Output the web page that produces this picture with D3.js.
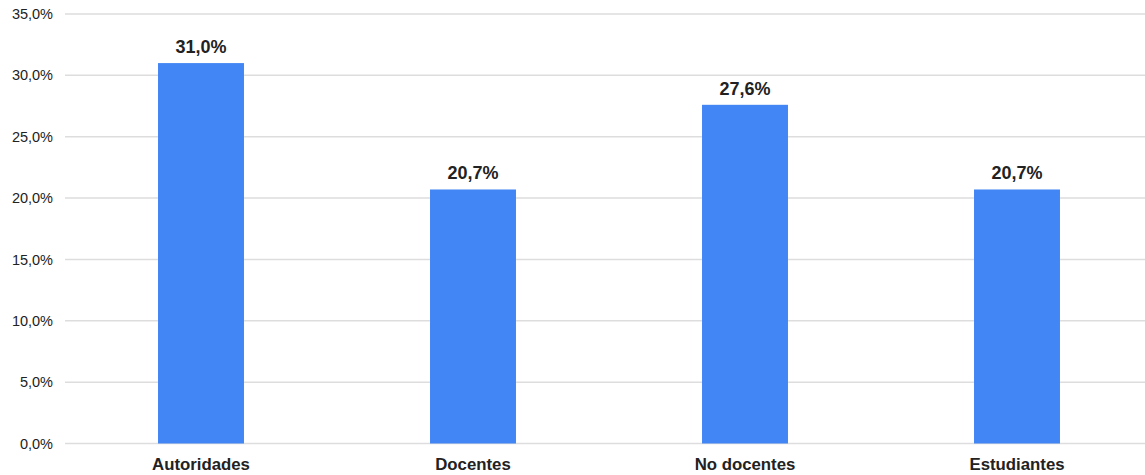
<!DOCTYPE html>
<html>
<head>
<meta charset="utf-8">
<script src="https://cdn.jsdelivr.net/npm/d3@7"></script>
<style>
  body { margin: 0; background: #fff; }
  svg { display: block; font-family: "Liberation Sans", Arial, sans-serif; }
</style>
</head>
<body>
<svg id="chart"></svg>
<script>
const categories = ["Autoridades", "Docentes", "No docentes", "Estudiantes"];
const values = [31.0, 20.7, 27.6, 20.7];
const yTicks = [0, 5, 10, 15, 20, 25, 30, 35];

const width = 1145;
const height = 475;

const svg = d3.select("#chart").attr("width", width).attr("height", height);

const x = d3.scaleBand()
  .domain(categories)
  .range([65, 1153])
  .paddingInner(0.684)
  .paddingOuter(0.342);

const y = d3.scaleLinear()
  .domain([0, 35])
  .range([443.5, 14]);

const fmt = (v) => d3.format(".1f")(v).replace(".", ",") + "%";

// gridlines
svg.append("g")
  .selectAll("line")
  .data(yTicks)
  .join("line")
  .attr("x1", 65)
  .attr("x2", width)
  .attr("y1", (d) => y(d))
  .attr("y2", (d) => y(d))
  .attr("stroke", "#dddddd")
  .attr("stroke-width", 1.5);

// y axis labels
const yAxis = svg.append("g")
  .attr("transform", "translate(53,0)")
  .call(d3.axisLeft(y).tickValues(yTicks).tickFormat(fmt).tickSize(0).tickPadding(0));
yAxis.select(".domain").remove();
yAxis.selectAll("text")
  .attr("font-size", "14.5px")
  .attr("font-family", "'Liberation Sans', Arial, sans-serif")
  .attr("fill", "#222");

// bars
svg.append("g")
  .selectAll("rect")
  .data(values)
  .join("rect")
  .attr("x", (d, i) => x(categories[i]))
  .attr("y", (d) => y(d))
  .attr("width", x.bandwidth())
  .attr("height", (d) => y(0) - y(d))
  .attr("fill", "#4285f4");

// value labels
svg.append("g")
  .selectAll("text")
  .data(values)
  .join("text")
  .attr("x", (d, i) => x(categories[i]) + x.bandwidth() / 2)
  .attr("y", (d) => y(d) - 10)
  .attr("text-anchor", "middle")
  .attr("font-size", "18px")
  .attr("font-weight", "bold")
  .attr("fill", "#222")
  .text(fmt);

// x axis labels
const xAxis = svg.append("g")
  .attr("transform", `translate(0,${y(0)})`)
  .call(d3.axisBottom(x).tickSize(0).tickPadding(0));
xAxis.select(".domain").remove();
xAxis.selectAll("text")
  .attr("dy", null)
  .attr("y", 26.5)
  .attr("font-size", "16.8px")
  .attr("font-weight", "bold")
  .attr("font-family", "'Liberation Sans', Arial, sans-serif")
  .attr("fill", "#222");
</script>
</body>
</html>
